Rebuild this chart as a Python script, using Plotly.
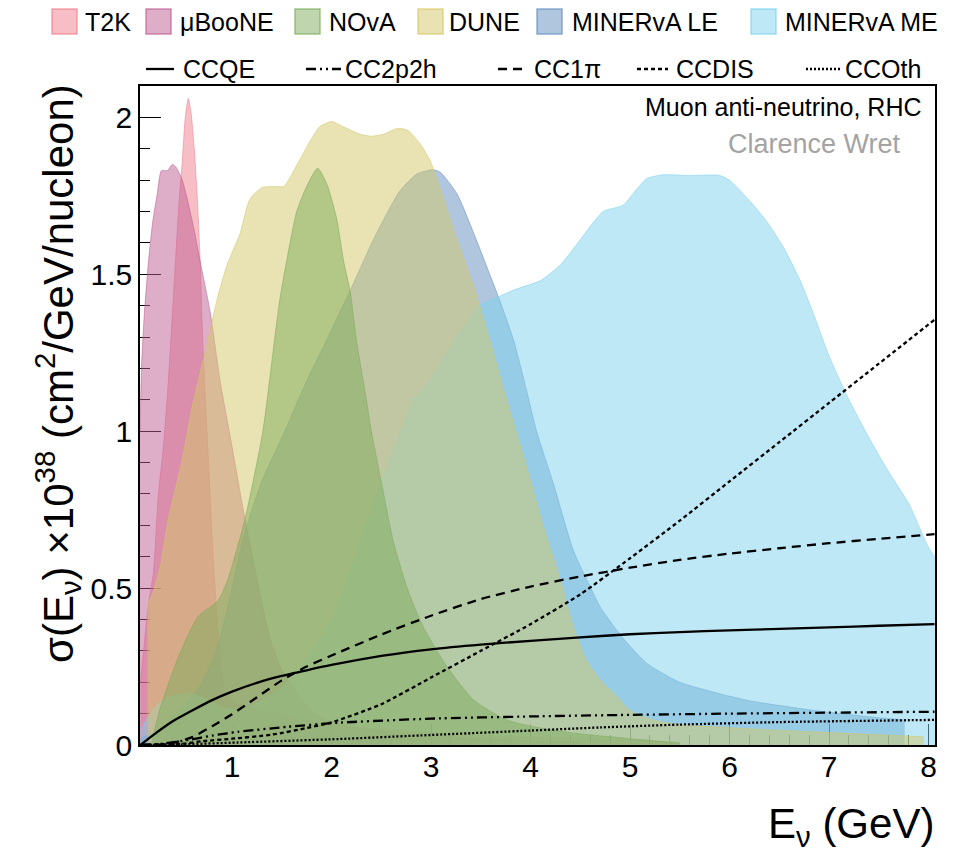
import plotly.graph_objects as go

# ---------------- flux shapes (E in GeV) ----------------
t2k_e = [0.08, 0.12, 0.16, 0.21, 0.26, 0.31, 0.36, 0.42, 0.47, 0.50, 0.53, 0.56, 0.59, 0.62,
         0.65, 0.68, 0.71, 0.74, 0.77, 0.81, 0.84, 0.87, 0.91, 0.96, 1.05, 1.16, 1.4, 1.8,
         2.5, 3.5, 4.5, 5.5]
t2k_v = [0.20, 0.33, 0.45, 0.55, 0.80, 0.95, 1.16, 1.48, 1.74, 1.86, 2.00, 2.06, 2.01, 1.90,
         1.75, 1.54, 1.25, 1.05, 0.86, 0.60, 0.45, 0.32, 0.20, 0.15, 0.13, 0.12, 0.10, 0.075,
         0.05, 0.03, 0.02, 0.01]

uboone_e = [0.075, 0.09, 0.12, 0.16, 0.20, 0.25, 0.29, 0.35, 0.40, 0.44, 0.50, 0.55, 0.62, 0.68,
            0.78, 0.88, 1.00, 1.13, 1.25, 1.39, 1.50, 1.63, 1.83, 2.1, 2.6, 3.5, 4.5]
uboone_v = [1.00, 1.20, 1.38, 1.54, 1.66, 1.76, 1.83, 1.83, 1.85, 1.84, 1.80, 1.74, 1.64, 1.54,
            1.38, 1.16, 0.95, 0.72, 0.53, 0.33, 0.24, 0.175, 0.10, 0.065, 0.04, 0.02, 0.01]

minerva_le_e = [0.08, 0.15, 0.3, 0.5, 0.7, 0.86, 1.0, 1.13, 1.3, 1.53, 1.75, 1.95, 2.19, 2.42,
                2.55, 2.69, 2.86, 3.02, 3.09, 3.26, 3.43, 3.59, 3.69, 3.83, 3.96, 4.06, 4.23,
                4.43, 4.6, 4.7, 4.93, 5.17, 5.5, 6.17, 6.85, 7.4, 7.76]
minerva_le_v = [0.02, 0.03, 0.06, 0.12, 0.20, 0.32, 0.50, 0.68, 0.84, 1.00, 1.16, 1.29, 1.45, 1.61,
                1.69, 1.767, 1.82, 1.833, 1.826, 1.757, 1.63, 1.50, 1.417, 1.29, 1.13, 1.00, 0.833,
                0.62, 0.504, 0.44, 0.34, 0.26, 0.20, 0.143, 0.11, 0.09, 0.08]

minerva_me_e = [0.08, 0.12, 0.22, 0.35, 0.56, 0.75, 0.89, 1.0, 1.16, 1.35, 1.56, 1.8, 2.0, 2.09,
                2.29, 2.49, 2.66, 2.82, 2.96, 3.22, 3.49, 3.69, 3.83, 4.1, 4.3, 4.5, 4.73, 4.93,
                5.03, 5.17, 5.33, 5.6, 5.9, 6.0, 6.2, 6.37, 6.54, 6.71, 6.86, 7.0, 7.2, 7.4, 7.6,
                7.8, 8.0, 8.1]
minerva_me_v = [0.04, 0.07, 0.12, 0.15, 0.165, 0.145, 0.12, 0.115, 0.12, 0.15, 0.20, 0.30, 0.40, 0.47,
                0.65, 0.83, 0.97, 1.10, 1.15, 1.28, 1.40, 1.43, 1.45, 1.48, 1.53, 1.61, 1.70, 1.72,
                1.757, 1.805, 1.817, 1.815, 1.815, 1.80, 1.735, 1.67, 1.587, 1.48, 1.36, 1.24, 1.10,
                0.98, 0.87, 0.77, 0.63, 0.58]

dune_e = [0.15, 0.20, 0.28, 0.36, 0.50, 0.60, 0.66, 0.75, 0.85, 0.95, 1.08, 1.18, 1.30, 1.42,
          1.52, 1.62, 1.75, 1.88, 2.00, 2.12, 2.29, 2.40, 2.52, 2.65, 2.76, 2.89, 2.99, 3.12,
          3.26, 3.43, 3.59, 3.76, 3.96, 4.13, 4.30, 4.43, 4.56, 4.70, 4.85, 5.00, 5.23, 5.50,
          5.84, 6.30, 6.84, 7.40, 7.95]
dune_v = [0.45, 0.48, 0.57, 0.72, 0.91, 1.08, 1.16, 1.28, 1.42, 1.53, 1.63, 1.74, 1.776, 1.78,
          1.78, 1.83, 1.905, 1.97, 1.987, 1.97, 1.946, 1.94, 1.946, 1.964, 1.96, 1.916, 1.863, 1.746,
          1.61, 1.46, 1.29, 1.10, 0.886, 0.695, 0.525, 0.377, 0.27, 0.207, 0.16, 0.11, 0.08, 0.065,
          0.058, 0.05, 0.042, 0.034, 0.026]

nova_e = [0.20, 0.28, 0.46, 0.66, 0.86, 0.96, 1.13, 1.31, 1.415, 1.48, 1.55, 1.65, 1.75, 1.86,
          1.95, 2.05, 2.12, 2.19, 2.25, 2.34, 2.40, 2.49, 2.62, 2.76, 2.92, 3.16, 3.43, 3.76,
          4.10, 4.43, 5.00, 5.50]
nova_v = [0.02, 0.12, 0.28, 0.41, 0.46, 0.53, 0.72, 1.00, 1.26, 1.42, 1.545, 1.70, 1.78, 1.838,
          1.79, 1.68, 1.545, 1.44, 1.29, 1.12, 1.00, 0.855, 0.65, 0.50, 0.377, 0.25, 0.143, 0.08,
          0.054, 0.038, 0.02, 0.006]

# ---------------- cross-section curves ----------------
ccqe_e = [0.08, 0.1, 0.2, 0.4, 0.6, 0.8, 1.0, 1.25, 1.5, 1.75, 2.0, 2.5, 3.0, 3.5, 4.0, 4.5,
          5.0, 5.5, 6.0, 6.5, 7.0, 7.5, 8.06]
ccqe_v = [0.0, 0.005, 0.03, 0.075, 0.11, 0.143, 0.17, 0.198, 0.22, 0.238, 0.255, 0.284, 0.305,
          0.32, 0.332, 0.343, 0.353, 0.36, 0.365, 0.37, 0.375, 0.38, 0.385]

cc2p2h_e = [0.08, 0.3, 0.56, 0.8, 1.06, 1.56, 2.07, 3.0, 4.0, 5.0, 6.0, 7.0, 8.06]
cc2p2h_v = [0.0, 0.004, 0.016, 0.03, 0.042, 0.058, 0.071, 0.084, 0.091, 0.096, 0.1, 0.103, 0.106]

cc1pi_e = [0.08, 0.3, 0.4, 0.6, 0.8, 1.0, 1.25, 1.5, 1.75, 2.0, 2.5, 3.0, 3.5, 4.0, 4.5, 5.0,
           5.5, 6.0, 6.5, 7.0, 7.5, 8.06]
cc1pi_v = [0.0, 0.002, 0.006, 0.025, 0.06, 0.098, 0.152, 0.206, 0.25, 0.285, 0.352, 0.412, 0.465,
           0.505, 0.537, 0.565, 0.59, 0.61, 0.627, 0.643, 0.657, 0.672]

ccdis_e = [0.08, 0.5, 0.7, 1.0, 1.4, 1.75, 2.0, 2.5, 3.0, 3.5, 4.0, 4.5, 5.0, 5.5, 6.0, 6.5,
           7.0, 7.5, 8.06]
ccdis_v = [0.0, 0.004, 0.012, 0.02, 0.033, 0.054, 0.072, 0.13, 0.215, 0.3, 0.385, 0.48, 0.595,
           0.715, 0.84, 0.965, 1.09, 1.215, 1.355]

ccoth_e = [0.08, 0.5, 1.06, 2.07, 3.0, 4.0, 4.7, 5.5, 6.5, 8.06]
ccoth_v = [0.0, 0.002, 0.008, 0.019, 0.032, 0.046, 0.056, 0.065, 0.073, 0.08]

flux_names = ["T2K", "μBooNE", "NOvA", "DUNE", "MINERvA LE", "MINERvA ME"]
xsec_names = ["CCQE", "CC2p2h", "CC1π", "CCDIS", "CCOth"]

# ---------------- styling ----------------
FONT = "Liberation Sans, Arial, Helvetica, sans-serif"
base = {
    "T2K": (239, 125, 141),
    "μBooNE": (189, 93, 145),
    "NOvA": (125, 172, 92),
    "DUNE": (211, 199, 103),
    "MINERvA LE": (97, 141, 189),
    "MINERvA ME": (125, 209, 237),
}
dashes = {"CCQE": "solid", "CC2p2h": "10px,4px,2px,4px,2px,4px", "CC1π": "9px,6px",
          "CCDIS": "4px,3px", "CCOth": "2px,2px"}

def rgba(c, a):
    return f"rgba({c[0]},{c[1]},{c[2]},{a})"

flux_data = {
    "T2K": (t2k_e, t2k_v),
    "μBooNE": (uboone_e, uboone_v),
    "MINERvA LE": (minerva_le_e, minerva_le_v),
    "MINERvA ME": (minerva_me_e, minerva_me_v),
    "DUNE": (dune_e, dune_v),
    "NOvA": (nova_e, nova_v),
}
xsec_data = {
    "CCQE": (ccqe_e, ccqe_v),
    "CC2p2h": (cc2p2h_e, cc2p2h_v),
    "CC1π": (cc1pi_e, cc1pi_v),
    "CCDIS": (ccdis_e, ccdis_v),
    "CCOth": (ccoth_e, ccoth_v),
}

fig = go.Figure()
for name, (ex, vy) in flux_data.items():
    c = base[name]
    fig.add_trace(go.Scatter(x=ex, y=vy, mode="lines", fill="tozeroy",
                             line=dict(color=rgba(c, 0.55), width=1, shape="spline", smoothing=0.6),
                             fillcolor=rgba(c, 0.5), showlegend=False, hoverinfo="skip"))
for name, (ex, vy) in xsec_data.items():
    fig.add_trace(go.Scatter(x=ex, y=vy, mode="lines",
                             line=dict(color="black", width=2.3, dash=dashes[name],
                                       shape="spline", smoothing=0.6),
                             showlegend=False, hoverinfo="skip"))

# plot area in pixels
L, R, T, B = 140, 935, 86, 745
W, H = 960, 853
def px(xp):
    return (xp - L) / (R - L)
def py(yp):
    return (B - yp) / (B - T)

shapes = []
annots = []
# legend row 1: flux boxes
box_x = [52, 146, 295, 418, 537, 751]
txt_x = [83, 178, 327, 447, 570, 783]
for name, bx, tx in zip(flux_names, box_x, txt_x):
    c = base[name]
    shapes.append(dict(type="rect", xref="paper", yref="paper",
                       x0=px(bx), x1=px(bx + 25), y0=py(34), y1=py(9),
                       fillcolor=rgba(c, 0.5), line=dict(color=rgba(c, 0.7), width=1.5)))
    annots.append(dict(text=name, xref="paper", yref="paper", x=px(tx), y=py(22),
                       xanchor="left", yanchor="middle", showarrow=False,
                       font=dict(family=FONT, size=25, color="black")))
# legend row 2: line styles
ln_x = [(146, 174), (306, 341), (498, 524), (637, 668), (806, 840)]
ln_t = [181, 343, 532, 674, 843]
for name, (a, b), tx in zip(xsec_names, ln_x, ln_t):
    shapes.append(dict(type="line", xref="paper", yref="paper",
                       x0=px(a), x1=px(b), y0=py(69), y1=py(69),
                       line=dict(color="black", width=2.3, dash=dashes[name])))
    annots.append(dict(text=name, xref="paper", yref="paper", x=px(tx), y=py(69),
                       xanchor="left", yanchor="middle", showarrow=False,
                       font=dict(family=FONT, size=25, color="black")))

annots.append(dict(text="Muon anti-neutrino, RHC", xref="paper", yref="paper",
                   x=px(924), y=py(107), xanchor="right", yanchor="middle", showarrow=False,
                   font=dict(family=FONT, size=25, color="black")))
annots.append(dict(text="Clarence Wret", xref="paper", yref="paper",
                   x=px(903), y=py(144), xanchor="right", yanchor="middle", showarrow=False,
                   font=dict(family=FONT, size=27, color="#a3a3a3")))
annots.append(dict(text="E<sub>ν</sub> (GeV)", xref="paper", yref="paper",
                   x=px(936), y=py(826), xanchor="right", yanchor="middle", showarrow=False,
                   font=dict(family=FONT, size=42, color="black")))
annots.append(dict(text="σ(E<sub>ν</sub>) ×10<sup>38</sup> (cm<sup>2</sup>/GeV/nucleon)",
                   xref="paper", yref="paper", x=px(57), y=py(374), textangle=-90,
                   xanchor="center", yanchor="middle", showarrow=False,
                   font=dict(family=FONT, size=42, color="black")))

axis_common = dict(showgrid=False, zeroline=False, showline=True, mirror=True,
                   linecolor="black", linewidth=1.5, ticks="inside", ticklen=21,
                   tickwidth=1.3, tickcolor="black", layer="below traces",
                   tickfont=dict(family=FONT, size=30, color="black"))

fig.update_layout(
    width=W, height=H,
    margin=dict(l=L, r=W - R, t=T, b=H - B),
    paper_bgcolor="white", plot_bgcolor="white",
    xaxis=dict(range=[0.075, 8.065], tickmode="linear", tick0=0, dtick=1,
               ticklabelstandoff=-6,
               minor=dict(ticks="inside", ticklen=10, tickwidth=1, tickcolor="black",
                          tickmode="linear", tick0=0, dtick=0.2),
               **axis_common),
    yaxis=dict(range=[0, 2.1], tickmode="linear", tick0=0, dtick=0.5,
               minor=dict(ticks="inside", ticklen=10, tickwidth=1, tickcolor="black",
                          tickmode="linear", tick0=0, dtick=0.1),
               **axis_common),
    shapes=shapes, annotations=annots,
    font=dict(family=FONT),
)

fig.write_html("out.html", config={"displayModeBar": False},
               post_script="document.body.style.margin='0px';document.body.style.overflow='hidden';")
